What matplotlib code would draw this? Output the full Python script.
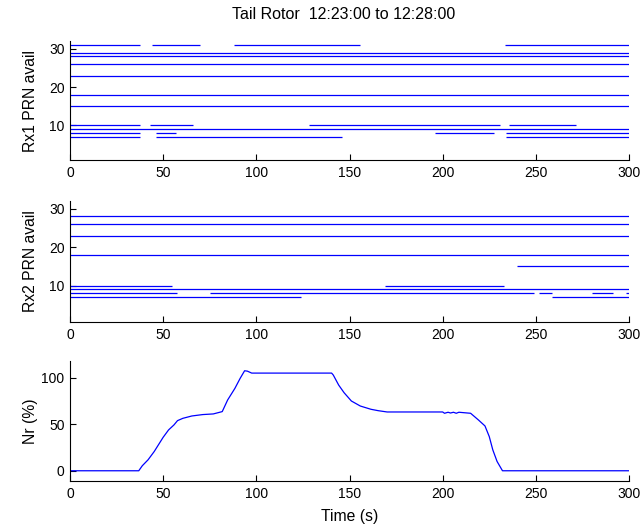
import numpy as np
import matplotlib.pyplot as plt

plt.rcParams["font.family"] = ["Liberation Sans", "DejaVu Sans"]

TITLE = "Tail Rotor  12:23:00 to 12:28:00"

# PRN availability: prn -> list of (start_s, end_s) visible intervals
rx1_prn = [31, 29, 28, 26, 23, 18, 15, 10, 9, 8, 7]
rx1_spans = [
    [(0, 37.5), (44, 70), (88, 155.5), (233.5, 300)],
    [(0, 300)],
    [(0, 300)],
    [(0, 300)],
    [(0, 300)],
    [(0, 300)],
    [(0, 300)],
    [(0, 37.5), (43, 66), (128, 231), (235.5, 271.5)],
    [(0, 300)],
    [(0, 37.5), (46, 57), (196, 227.5), (234, 300)],
    [(0, 37.5), (46, 146), (234, 300)],
]

rx2_prn = [28, 26, 23, 18, 15, 10, 9, 8, 7]
rx2_spans = [
    [(0, 300)],
    [(0, 300)],
    [(0, 300)],
    [(0, 300)],
    [(240, 300)],
    [(0, 55), (169, 233)],
    [(0, 300)],
    [(0, 57.5), (75, 249), (251.5, 258.5), (280, 291.5), (298.5, 300)],
    [(0, 124), (258.5, 300)],
]

# rotor speed Nr (%) vs time
t_nr = [0, 36.9, 38.8, 41.9, 45.2, 50, 52.9, 55.8, 57.7, 60.6, 65.4, 71.2, 76.9,
        81.7, 84.6, 88.5, 91.3, 93.7, 95.2, 97.5, 140.4, 141.3, 144.2, 147.1,
        151, 155.8, 161.5, 165.4, 170.2, 200, 201, 202.9, 204.2, 205.8, 207.3,
        208.7, 215, 219.2, 222.7, 225, 226.9, 229.2, 232.1, 300]
nr = [0, 0, 5.4, 11.8, 20.7, 36, 43.9, 49.3, 53.9, 56.4, 58.9, 60.4, 61.1,
      63.6, 76.1, 88.6, 99.3, 107.5, 107.1, 105, 105, 102.9, 92.1, 83.9,
      75, 69.6, 66.1, 64.6, 63.2, 63.2, 61.8, 62.9, 62.1, 62.9, 61.8,
      62.9, 61.8, 54.6, 48.2, 36.8, 22.5, 10, 0, 0]

W, H = 642, 524
fig = plt.figure(figsize=(W / 100, H / 100), dpi=100)


def add_axes(left, top, right, bottom):
    return fig.add_axes([left / W, 1 - bottom / H, (right - left) / W, (bottom - top) / H])


ax1 = add_axes(70, 41, 629, 160)
ax2 = add_axes(70, 201, 629, 322)
ax3 = add_axes(70, 361, 629, 481)


def style(ax):
    for s in ("top", "right"):
        ax.spines[s].set_visible(False)
    for s in ("left", "bottom"):
        ax.spines[s].set_linewidth(0.8)
    ax.tick_params(direction="in", length=4, width=0.8, labelsize=10, pad=4)
    ax.set_xlim(0, 300)
    ax.set_xticks(np.arange(0, 301, 50))
    ax.yaxis.set_label_coords(-0.058, 0.5)


def draw_prn(ax, prns, spans):
    for prn, segs in zip(prns, spans):
        for a, b in segs:
            ax.hlines(prn, a, b, color="b", lw=0.9)


draw_prn(ax1, rx1_prn, rx1_spans)
draw_prn(ax2, rx2_prn, rx2_spans)
ax3.plot(t_nr, nr, color="b", lw=0.9)

for ax in (ax1, ax2, ax3):
    style(ax)

ax1.set_ylim(1, 32)
ax2.set_ylim(0.5, 32)
ax1.set_yticks([10, 20, 30])
ax2.set_yticks([10, 20, 30])
ax3.set_ylim(-11, 118)
ax3.set_yticks([0, 50, 100])

ax1.set_ylabel("Rx1 PRN avail", fontsize=11.3)
ax2.set_ylabel("Rx2 PRN avail", fontsize=11.3)
ax3.set_ylabel("Nr (%)", fontsize=11.3)
ax3.set_xlabel("Time (s)", fontsize=11.3, labelpad=6)
ax1.set_title(TITLE, fontsize=11.5, pad=15.5, x=0.489)

fig.savefig("out.png", dpi=100)
